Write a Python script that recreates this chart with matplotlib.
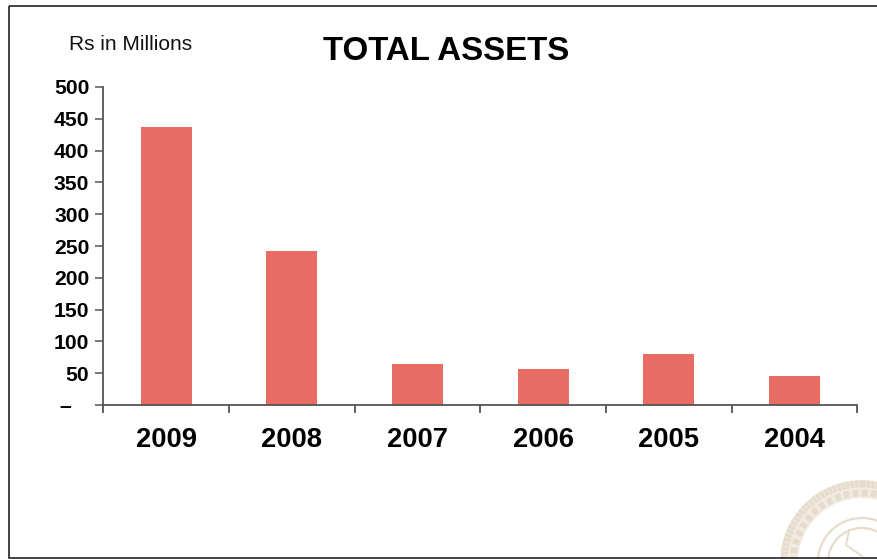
import matplotlib
matplotlib.use("Agg")
import matplotlib.pyplot as plt
from matplotlib.patches import Circle, Rectangle

years = ["2009", "2008", "2007", "2006", "2005", "2004"]
assets = [437, 242, 64, 57, 80, 46]
y_ticks = [0, 50, 100, 150, 200, 250, 300, 350, 400, 450, 500]
y_labels = ["–   ", "50", "100", "150", "200", "250", "300", "350", "400", "450", "500"]

W, H = 877, 559
plt.rcParams["font.family"] = ["Liberation Sans", "DejaVu Sans"]

fig = plt.figure(figsize=(W / 100, H / 100), dpi=100)

# background layer in pixel coordinates: frame and seal
bg = fig.add_axes([0, 0, 1, 1])
bg.set_xlim(0, W)
bg.set_ylim(H, 0)
bg.axis("off")

seal = "#e6dccc"
seal_pale = "#f1ebe1"
cx, cy = 862, 562
bg.add_patch(Circle((cx, cy), 73, fill=False, ec=seal_pale, lw=13))
bg.add_patch(Circle((cx, cy), 78, fill=False, ec=seal, lw=5, ls=(0, (0.5, 0.15))))
bg.add_patch(Circle((cx, cy), 69, fill=False, ec=seal, lw=5, ls=(0, (0.8, 0.5))))
bg.add_patch(Circle((cx, cy), 44, fill=False, ec=seal, lw=1.6))
bg.add_patch(Circle((cx, cy), 34, fill=False, ec=seal, lw=1.6))
bg.plot([849, 846, 862], [530, 545, 556], color=seal, lw=1.4)
bg.add_patch(Rectangle((9, 6), W + 5, 552, fill=False, ec="#222222", lw=1.2))

ax = fig.add_axes([103.3 / W, 1 - 405 / H, 754 / W, 318 / H])
ax.patch.set_alpha(0)
ax.bar(range(len(years)), assets, width=0.405, color="#e66c64")
ax.set_xlim(-0.5, 5.5)
ax.set_ylim(0, 500)

for side in ("top", "right"):
    ax.spines[side].set_visible(False)
for side in ("left", "bottom"):
    ax.spines[side].set_color("#555555")
    ax.spines[side].set_linewidth(1.3)

ax.set_yticks(y_ticks)
ax.set_yticklabels(y_labels, fontsize=15.2, fontweight="bold")
ax.tick_params(axis="y", length=5.8, width=1.1, color="#555555", pad=4.2)

# year labels sit between the ticks, which mark the category edges
ax.set_xticks([i - 0.5 for i in range(len(years) + 1)])
ax.set_xticklabels([])
ax.tick_params(axis="x", length=6, width=1.1, color="#333333")
for i, year in enumerate(years):
    ax.annotate(year, (i, 0), xytext=(0, -42), xycoords=("data", "axes fraction"),
                textcoords="offset pixels", ha="center", va="baseline",
                fontsize=19.7, fontweight="bold", color="black")

fig.text(131 / W, 1 - 45 / H, "Rs in Millions", fontsize=15, ha="center", va="center", color="#111111")
fig.text(446 / W, 1 - 51 / H, "TOTAL ASSETS", fontsize=23.8, fontweight="bold", ha="center", va="center", color="black")

fig.savefig("out.png", dpi=100)
